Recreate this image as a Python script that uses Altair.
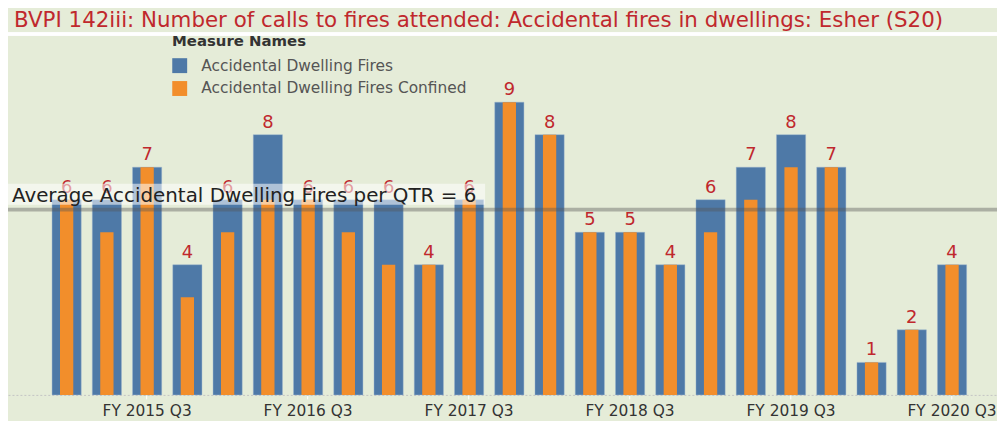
import altair as alt
import pandas as pd

quarters = [
    "FY 2015 Q1", "FY 2015 Q2", "FY 2015 Q3", "FY 2015 Q4",
    "FY 2016 Q1", "FY 2016 Q2", "FY 2016 Q3", "FY 2016 Q4",
    "FY 2017 Q1", "FY 2017 Q2", "FY 2017 Q3", "FY 2017 Q4",
    "FY 2018 Q1", "FY 2018 Q2", "FY 2018 Q3", "FY 2018 Q4",
    "FY 2019 Q1", "FY 2019 Q2", "FY 2019 Q3", "FY 2019 Q4",
    "FY 2020 Q1", "FY 2020 Q2", "FY 2020 Q3",
]
fires = [6, 6, 7, 4, 6, 8, 6, 6, 6, 4, 6, 9, 8, 5, 5, 4, 6, 7, 8, 7, 1, 2, 4]
confined = [6, 5, 7, 3, 5, 6, 6, 5, 4, 4, 6, 9, 8, 5, 5, 4, 5, 6, 7, 7, 1, 2, 4]
axis_labels = ["FY 2015 Q3", "FY 2016 Q3", "FY 2017 Q3", "FY 2018 Q3", "FY 2019 Q3", "FY 2020 Q3"]
measure_names = ["Accidental Dwelling Fires", "Accidental Dwelling Fires Confined"]
bar_colors = ["#4e79a7", "#f28e2b"]
title_text = "BVPI 142iii: Number of calls to fires attended: Accidental fires in dwellings: Esher (S20)"
avg_prefix = "Average Accidental Dwelling Fires per QTR = "

FONT = "DejaVu Sans"
BG = "#e5ecd8"
W, H = 995, 360

df = pd.DataFrame({"Quarter": quarters, "Fires": fires, "Confined": confined})

x_scale = alt.Scale(domain=quarters, paddingInner=0, paddingOuter=0.787, align=0.608, round=False)
y_scale = alt.Scale(domain=[0, 11], nice=False)
color_scale = alt.Scale(domain=measure_names, range=bar_colors)

x_enc = alt.X(
    "Quarter:N", scale=x_scale, sort=quarters, title=None,
    axis=alt.Axis(values=axis_labels, labelAngle=0),
)

base = alt.Chart(df)

legend = alt.Legend(
    title="Measure Names", orient="none", legendX=165, legendY=-3,
    titleFont=FONT, titleFontSize=15, titleFontWeight="bold", titleColor="#333333",
    labelFont=FONT, labelFontSize=15.5, labelColor="#555555", labelLimit=0,
    symbolType="square", symbolSize=225, symbolStrokeWidth=0, symbolOpacity=1,
    rowPadding=6, labelOffset=14, titlePadding=9,
)

blue = base.transform_calculate(Measure=f"'{measure_names[0]}'").mark_bar(
    width=alt.RelativeBandSize(0.725), stroke="#9db5cf", strokeWidth=0.6, strokeOpacity=0.7,
).encode(
    x=x_enc,
    y=alt.Y("Fires:Q", scale=y_scale, axis=None),
    color=alt.Color("Measure:N", scale=color_scale, legend=legend),
)

orange = base.transform_calculate(Measure=f"'{measure_names[1]}'").mark_bar(
    width=alt.RelativeBandSize(0.33),
).encode(
    x=x_enc,
    y=alt.Y("Confined:Q", scale=y_scale),
    color=alt.Color("Measure:N", scale=color_scale),
)

labels = base.mark_text(
    baseline="alphabetic", dy=-7, fontSize=18, font=FONT, color="#c0282d",
).encode(
    x=x_enc,
    y=alt.Y("Fires:Q", scale=y_scale),
    text="Fires:Q",
)

avg = base.transform_aggregate(avg="mean(Fires)").transform_calculate(
    label=f"'{avg_prefix}' + format(datum.avg, '.0f')"
)

avg_box = avg.mark_rect(color="white", opacity=0.55, yOffset=-26, y2Offset=-5).encode(
    x=alt.value(0), x2=alt.value(480),
    y=alt.Y("avg:Q", scale=y_scale), y2="avg:Q",
)

avg_rule = avg.mark_rule(color="#555555", opacity=0.4, strokeWidth=4).encode(
    x=alt.value(0), x2=alt.value(W),
    y=alt.Y("avg:Q", scale=y_scale),
)

avg_text = avg.mark_text(
    align="left", baseline="alphabetic", dx=4, dy=-8, fontSize=20, font=FONT, color="#222222",
).encode(
    x=alt.value(0),
    y=alt.Y("avg:Q", scale=y_scale),
    text="label:N",
)

stripe = base.mark_rule(color="white", strokeWidth=2.5).encode(
    x=alt.value(-10), x2=alt.value(W + 10), y=alt.value(-3),
)

title = alt.Chart(pd.DataFrame({"t": [title_text]})).mark_text(
    align="left", baseline="middle", fontSize=21.5, font=FONT, color="#c0282d",
).encode(
    x=alt.value(6), y=alt.value(-16), text="t:N",
)

chart = alt.layer(
    stripe, blue, orange, labels, avg_box, avg_rule, avg_text, title
).properties(
    width=W, height=H,
    padding={"left": 0, "right": 0, "top": 28, "bottom": 25},
    autosize=alt.AutoSizeParams(type="none"),
    background=BG,
).configure_view(stroke=None).configure_axisX(
    domainColor="#c4c4c4", domainDash=[2, 2], domainWidth=1,
    tickColor="white", tickSize=4, tickWidth=1,
    labelFont=FONT, labelFontSize=15.5, labelColor="#333333", labelPadding=5,
    grid=False,
)

chart.save("out.html", embed_options={"renderer": "svg", "actions": False})
